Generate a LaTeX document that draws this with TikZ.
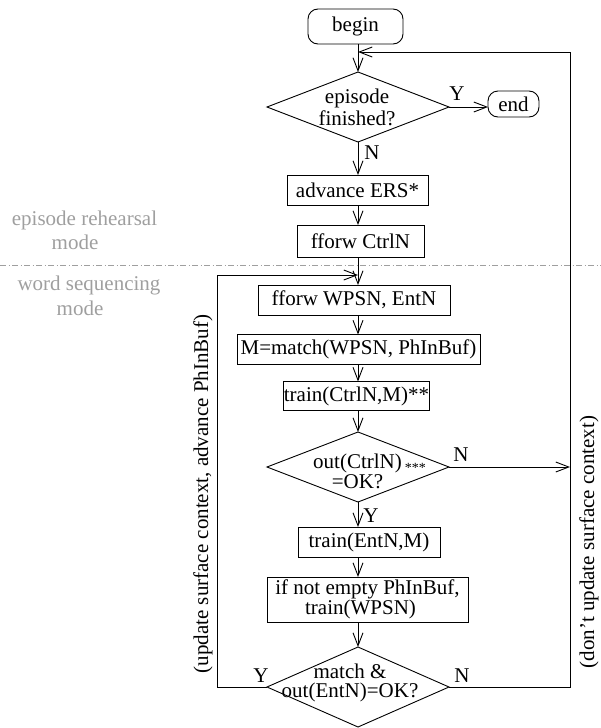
\documentclass[tikz,border=0pt]{standalone}
\usepackage{fontspec}
\setmainfont{Liberation Serif}
\usetikzlibrary{arrows.meta,shapes.geometric}
\begin{document}
\begin{tikzpicture}[x=1pt,y=-1pt,
  every node/.style={font=\fontsize{21}{22}\selectfont, inner sep=0pt, outer sep=0pt},
  ln/.style={line width=0.9pt},
  box/.style={draw, ln, minimum height=30pt},
  rbox/.style={box, rounded corners=10pt},
  dia/.style={draw, ln, diamond, minimum width=182pt, minimum height=70pt},
  arr/.style={ln, -{Straight Barb[length=13pt,width=10pt,line width=0.9pt]}},
  modetext/.style={text=gray!75, anchor=base},
  divider/.style={gray!75, line width=0.7pt, dash pattern=on 6pt off 2.5pt on 1pt off 2.5pt},
]
\useasboundingbox (0,0) rectangle (601,728);
\coordinate (ax) at (358,0);

% mode labels and divider
\node[modetext] (m1a) at (84.5,225) {episode rehearsal};
\node[modetext] (m1b) at (75,249) {mode};
\node[modetext] (m2a) at (89,290) {word sequencing};
\node[modetext] (m2b) at (80,315) {mode};
\coordinate (divl) at (0,265);
\coordinate (divr) at (601,265);
\draw[divider] (divl) -- (divr);

% flow nodes
\node[rbox, minimum width=95pt, minimum height=35pt] (begin) at (355.5,26.5) {begin};
\node[dia] (d1) at (358,107) {};
\node[align=center] (d1t) at (357,107) {episode\\finished?};
\node[rbox, minimum width=51pt, minimum height=26pt] (end) at (513.5,104) {end};
\node[box, minimum width=141pt] (adv) at (357.5,190) {advance ERS*};
\node[box, minimum width=127pt, minimum height=32pt] (ctrl) at (360.5,241) {fforw CtrlN};
\node[box, minimum width=192pt] (wpsn) at (354,300) {fforw WPSN, EntN};
\node[box, minimum width=243pt] (match) at (358.5,349.5) {M=match(WPSN, PhInBuf)};
\node[box, minimum width=137pt, minimum height=29pt] (tr1) at (356.5,396) {train(CtrlN,M)**};
\node[dia] (d2) at (358,467) {};
\node[align=center] (d2t) at (357.5,471.3) {out(CtrlN)\rlap{\kern3pt\raisebox{-4pt}{\fontsize{14}{14}\selectfont ***}}\\[-2.2pt]=OK?};
\node[box, minimum width=142pt] (tr2) at (369,542) {train(EntN,M)};
\node[box, minimum width=201pt, minimum height=45pt, align=center] (ifne) at (367.5,599.5) {if not empty PhInBuf,\\[-2pt]train(WPSN)\hspace*{14pt}};
\node[dia, minimum height=80pt] (d3) at (358,687) {};
\node[align=center] (d3t) at (350,683) {match \&\\[-3pt]out(EntN)=OK?};

% branch labels
\node (y1) at (457,94) {Y};
\node (n1) at (372,153) {N};
\node (n2) at (461,455) {N};
\node (y2) at (371,516) {Y};
\node (y3) at (261,676) {Y};
\node (n3) at (462,676) {N};

% loop labels
\node[rotate=90] (upd) at (203,494) {(update surface context, advance PhInBuf)};
\node[rotate=90] (noupd) at (589,542) {(don't update surface context)};

% connectors
\draw[arr] (begin.south -| ax) -- (d1.north);
\draw[arr] (d1.east) -- (d1.east -| end.west);
\draw[arr] (d1.south) -- (adv.north -| ax);
\draw[arr] (adv.south -| ax) -- (ctrl.north -| ax);
\draw[arr] (ctrl.south -| ax) -- (wpsn.north -| ax);
\draw[arr] (wpsn.south -| ax) -- (match.north -| ax);
\draw[arr] (match.south -| ax) -- (tr1.north -| ax);
\draw[arr] (tr1.south -| ax) -- (d2.north);
\draw[arr] (d2.south) -- (tr2.north -| ax);
\draw[arr] (tr2.south -| ax) -- (ifne.north -| ax);
\draw[arr] (ifne.south -| ax) -- (d3.north);

% loops back to the top and into the word sequencing mode
\coordinate (rtop) at (570,52);
\coordinate (ltop) at (217,275);
\draw[arr] (d3.east) -| (rtop) -- (rtop -| ax);
\draw[arr] (d3.west) -| (ltop) -- (ltop -| ax);
\draw[arr] (d2.east) -- (d2.east -| rtop);
\end{tikzpicture}
\end{document}
